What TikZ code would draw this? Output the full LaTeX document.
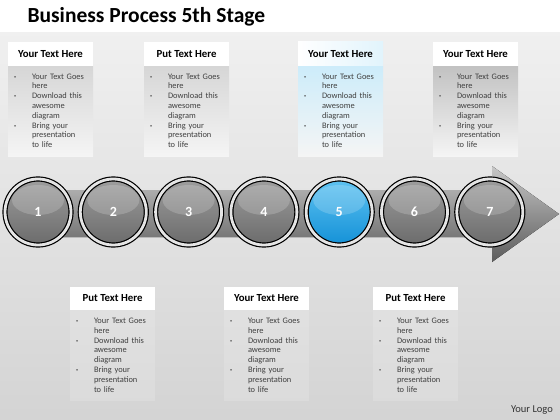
\documentclass[tikz,border=0pt]{standalone}
\usepackage{fontspec}
\setmainfont{Carlito}
\usetikzlibrary{positioning}

\definecolor{stageblue}{RGB}{20,145,215}
\definecolor{stagebluelight}{RGB}{95,195,242}
\definecolor{paleblue}{RGB}{205,236,250}

% the three bullets that every text box repeats
\newcommand{\bodylist}{%
  \begin{tabular}{@{}p{18pt}@{}l@{}}
  \raisebox{1pt}{\scalebox{0.5}{\textbullet}} & Your Text Goes\\
   & here\\
  \raisebox{1pt}{\scalebox{0.5}{\textbullet}} & Download this\\
   & awesome\\
   & diagram\\
  \raisebox{1pt}{\scalebox{0.5}{\textbullet}} & Bring your\\
   & presentation\\
   & to life
  \end{tabular}}

\begin{document}
\begin{tikzpicture}[
    x=1pt, y=-1pt,
    head/.style={rectangle, fill=white, minimum width=85pt, minimum height=24pt, inner sep=0pt, font=\fontsize{10.8}{12}\selectfont\bfseries},
    body/.style={rectangle, text width=73pt, inner xsep=6pt, inner ysep=0pt, minimum height=90pt, align=left, top color=black!16, bottom color=black!4, text=black!75, font=\fontsize{8.4}{9.8}\selectfont},
    stage/.style={circle, minimum size=66pt, inner sep=0pt, outer sep=0pt, draw=black, line width=1.2pt, double=black!10, double distance=2.8pt, top color=black!38, bottom color=black!58, text=white, font=\fontsize{14}{14}\selectfont\bfseries,
        path picture={\fill[white, opacity=0.18] ([yshift=12pt]path picture bounding box.center) ellipse [x radius=26pt, y radius=15pt];}},
    active/.style={top color=stagebluelight, bottom color=stageblue}
]
\useasboundingbox (0,0) rectangle (560,420);

% backdrop
\fill[white] (0,0) rectangle (560,33);
\fill[top color=black!6, middle color=black!2, bottom color=black!17] (0,33) rectangle (560,420);

\node[anchor=west, font=\fontsize{21.5}{23}\selectfont\bfseries] (title) at (24,17) {Business Process 5th Stage};

% big arrow behind the stages
\fill[top color=black!22, middle color=black!40, bottom color=black!64]
    (20,190) -- (492,190) -- (492,166) -- (559,214) -- (492,262) -- (492,237) -- (20,237) -- cycle;

% stages
\node[stage] (s1) at (38,212) {1};
\node[stage, right=9.3pt of s1] (s2) {2};
\node[stage, right=9.3pt of s2] (s3) {3};
\node[stage, right=9.3pt of s3] (s4) {4};
\node[stage, active, right=9.3pt of s4] (s5) {5};
\node[stage, right=9.3pt of s5] (s6) {6};
\node[stage, right=9.3pt of s6] (s7) {7};

% upper text boxes
\node[head] (h1) at (50.5,54) {Your Text Here};
\node[body, below=0pt of h1] (b1) {\bodylist};
\node[head] (h2) at (186.5,54) {Put Text Here};
\node[body, below=0pt of h2] (b2) {\bodylist};
\node[head, left color=white, right color=paleblue!60] (h3) at (340.5,54) {Your Text Here};
\node[body, top color=paleblue, bottom color=black!4, below=0pt of h3] (b3) {\bodylist};
\node[head] (h4) at (475.5,54) {Your Text Here};
\node[body, top color=black!24, bottom color=black!4, below=0pt of h4] (b4) {\bodylist};

% lower text boxes
\node[head] (h5) at (112.5,298.5) {Put Text Here};
\node[body, top color=black!12, bottom color=black!14, below=0pt of h5] (b5) {\bodylist};
\node[head] (h6) at (266.5,298.5) {Your Text Here};
\node[body, top color=black!12, bottom color=black!14, below=0pt of h6] (b6) {\bodylist};
\node[head] (h7) at (415.5,298.5) {Put Text Here};
\node[body, top color=black!12, bottom color=black!14, below=0pt of h7] (b7) {\bodylist};

\node[font=\fontsize{10.5}{11}\selectfont, text=black!80] (logo) at (532,410) {Your Logo};

\end{tikzpicture}
\end{document}
